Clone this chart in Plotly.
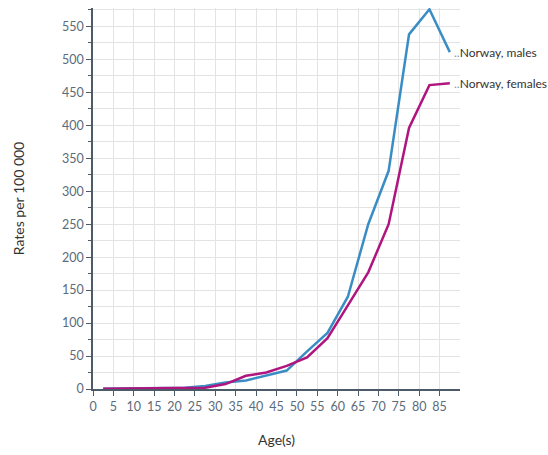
import plotly.graph_objects as go

ages = [2.5, 7.5, 12.5, 17.5, 22.5, 27.5, 32.5, 37.5, 42.5, 47.5, 52.5, 57.5, 62.5, 67.5, 72.5, 77.5, 82.5, 87.5]
males = [0.5, 1, 1, 1, 2, 4.5, 10, 13, 21, 28, 57, 85, 140, 250, 331, 538, 576, 511]
females = [0.5, 1, 1, 1, 2, 2, 7.5, 20, 25, 35, 48, 77, 127, 177, 250, 396, 461, 464]
series_names = ["Norway, males", "Norway, females"]
x_ticks = list(range(0, 90, 5))
y_ticks = list(range(0, 600, 50))

blue = "#3a8dc4"
magenta = "#b0147f"
axis_col = "#4d5b69"
tick_col = "#5b6b7a"
font_family = "Lato, 'Noto Sans', sans-serif"

fig = go.Figure()
for name, vals, col in [(series_names[0], males, blue), (series_names[1], females, magenta)]:
    fig.add_trace(go.Scatter(x=ages, y=vals, mode="lines", name=name,
                             line=dict(color=col, width=2.5), showlegend=False))
    fig.add_annotation(x=ages[-1], y=vals[-1], xref="x", yref="y",
                       text="<span style='color:#8a97a3'>..</span>" + name,
                       showarrow=False, xanchor="left", yanchor="middle", xshift=2,
                       font=dict(size=12, color="#333333", family=font_family))

fig.update_layout(
    width=548, height=455,
    margin=dict(l=93, r=88, t=8, b=66),
    plot_bgcolor="white", paper_bgcolor="white",
    font=dict(family=font_family, size=12, color=tick_col),
)
fig.update_xaxes(range=[0, 90], tickvals=x_ticks, ticktext=[str(t) for t in x_ticks],
                 showgrid=True, gridcolor="#e3e3e3", gridwidth=1,
                 showline=True, linecolor=axis_col, linewidth=1.5,
                 ticks="outside", ticklen=5, tickcolor=axis_col,
                 tickfont=dict(size=12.5, color=tick_col), zeroline=False,
                 title=dict(text="Age(s)", font=dict(size=14, color="#333333"), standoff=22))
fig.update_yaxes(range=[0, 578], tickvals=y_ticks,
                 showgrid=True, gridcolor="#e3e3e3", gridwidth=1,
                 showline=True, linecolor=axis_col, linewidth=1.5,
                 ticks="outside", ticklen=5, tickcolor=axis_col,
                 tickfont=dict(size=12.5, color=tick_col), zeroline=False,
                 minor=dict(dtick=25, tick0=0, showgrid=True, gridcolor="#e3e3e3",
                            ticks="outside", ticklen=3, tickcolor=axis_col),
                 title=dict(text="Rates per 100 000", font=dict(size=14, color="#333333"), standoff=34))

fig.write_html("out.html", config={"displayModeBar": False},
               post_script="document.body.style.margin='0';")
